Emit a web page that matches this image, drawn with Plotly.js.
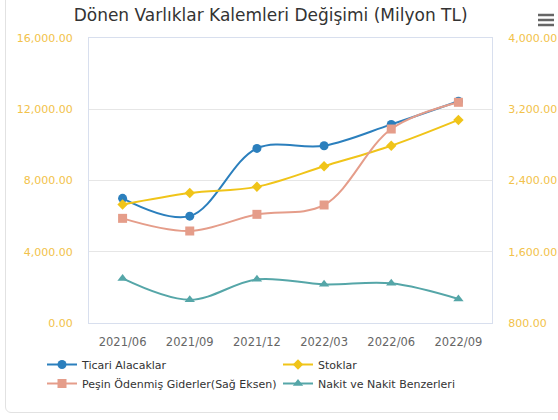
<!DOCTYPE html>
<html><head><meta charset="utf-8">
<script src="https://cdn.plot.ly/plotly-3.0.1.min.js"></script>
<style>
html,body{margin:0;padding:0;background:#fff;overflow:hidden;}
#card{position:absolute;left:5px;top:-10px;width:620px;height:423px;border:1px solid #e2e2e2;border-radius:6px;box-sizing:border-box;}
#chart{position:absolute;left:0;top:0;width:558px;height:420px;}
</style></head>
<body>
<div id="card"></div>
<div id="chart"></div>
<script>
const categories = ["2021/06","2021/09","2021/12","2022/03","2022/06","2022/09"];
const ticariAlacaklar = [7000, 6000, 9800, 9950, 11150, 12450];
const stoklar = [6650, 7300, 7650, 8800, 9950, 11400];
const pesinOdenmis = [1975, 1833, 2020, 2125, 2978, 3278];
const nakit = [2500, 1300, 2450, 2170, 2230, 1350];
const leftTicks = [0, 4000, 8000, 12000, 16000];
const rightTicks = [800, 1600, 2400, 3200, 4000];

const fontFam = '"DejaVu Sans", Verdana, sans-serif';
function tr(name, y, color, symbol, size, axis) {
  return {
    type: 'scatter', mode: 'lines+markers', name: name,
    x: categories, y: y, yaxis: axis,
    line: {color: color, width: 2, shape: 'spline', smoothing: 1},
    marker: {color: color, symbol: symbol, size: size},
    hoverinfo: 'x+y'
  };
}
const data = [
  tr('Ticari Alacaklar', ticariAlacaklar, '#2b7fbd', 'circle', 9, 'y'),
  tr('Stoklar', stoklar, '#f0c419', 'diamond', 8, 'y'),
  tr('Peşin Ödenmiş Giderler(Sağ Eksen)', pesinOdenmis, '#e59d8a', 'square', 9, 'y2'),
  tr('Nakit ve Nakit Benzerleri', nakit, '#55a6a8', 'triangle-up', 9, 'y')
];
function fmt(v){return v.toLocaleString('en-US',{minimumFractionDigits:2,maximumFractionDigits:2});}
const L = 89, T = 38, R = 492, B = 323;
function px(x){return (x-L)/(R-L);}
function py(y){return (B-y)/(B-T);}
const layout = {
  width: 558, height: 420,
  paper_bgcolor: 'rgba(0,0,0,0)', plot_bgcolor: '#fff',
  margin: {l: L, r: 558-R, t: T, b: 420-B, pad: 0, autoexpand: false},
  font: {family: fontFam, color: '#333'},
  title: {text: 'Dönen Varlıklar Kalemleri Değişimi (Milyon TL)', font: {size: 17, color: '#333', family: fontFam}, x: 0.485, xanchor: 'center', y: 0.965, yanchor: 'middle'},
  showlegend: true,
  legend: {orientation: 'h', xref: 'paper', yref: 'paper', x: px(42), y: py(350), xanchor: 'left', yanchor: 'top',
    entrywidth: 191, entrywidthmode: 'pixels', font: {size: 11, color: '#333', family: fontFam}, itemwidth: 30, tracegroupgap: 0},
  xaxis: {type: 'category', range: [-0.5, 5.5], showgrid: false, showline: true, linecolor: '#d8dfee', linewidth: 1, mirror: true,
    ticks: 'outside', ticklen: 8, tickcolor: 'rgba(0,0,0,0)', tickfont: {size: 11.5, color: '#666', family: fontFam}, zeroline: false, fixedrange: true},
  yaxis: {range: [0, 16000], tickvals: leftTicks, ticktext: leftTicks.map(fmt), showgrid: true, gridcolor: '#e6e6e6', zeroline: false,
    showline: true, linecolor: '#d8dfee', linewidth: 1, mirror: true,
    ticks: 'outside', ticklen: 13, tickcolor: 'rgba(0,0,0,0)', tickfont: {size: 11, color: '#f2c24a', family: fontFam}, fixedrange: true},
  yaxis2: {overlaying: 'y', side: 'right', range: [800, 4000], tickvals: rightTicks, ticktext: rightTicks.map(fmt), showgrid: false, zeroline: false,
    showline: false, ticks: 'outside', ticklen: 13, tickcolor: 'rgba(0,0,0,0)', tickfont: {size: 11, color: '#f2c24a', family: fontFam}, fixedrange: true},
  shapes: [15, 20, 25].map(yy => ({type: 'line', xref: 'paper', yref: 'paper', x0: px(538), x1: px(554), y0: py(yy), y1: py(yy), line: {color: '#666', width: 2.5}}))
};
Plotly.newPlot('chart', data, layout, {displayModeBar: false, responsive: false});
</script>
</body></html>
